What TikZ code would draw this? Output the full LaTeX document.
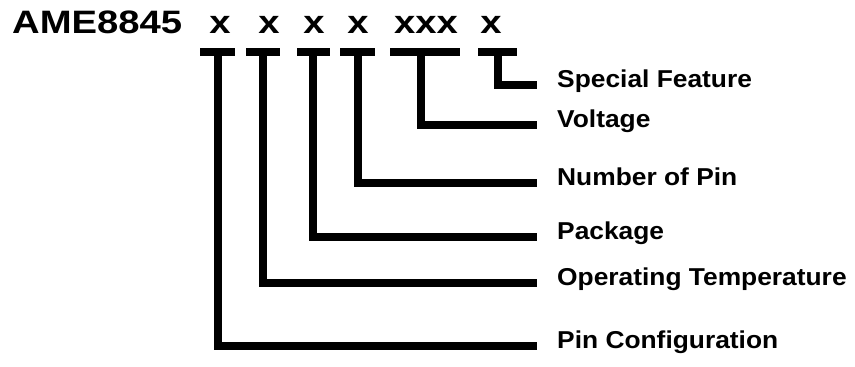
\documentclass[tikz,border=0pt]{standalone}
\usepackage{fontspec}
\newfontfamily\partfont[FakeStretch=1.18]{Liberation Sans}
\newfontfamily\fieldfont[FakeStretch=1.08]{Liberation Sans}
\tikzset{
  code/.style={font=\partfont\bfseries\fontsize{32.4}{36}\selectfont, inner sep=0pt, anchor=base},
  field/.style={font=\fieldfont\bfseries\fontsize{24.4}{28}\selectfont, inner sep=0pt, anchor=west, text height=0.75em, text depth=0.25em},
  bar/.style={line width=8pt},
}
\begin{document}
\begin{tikzpicture}[x=1pt,y=-1pt]
\useasboundingbox (0,0) rectangle (855,367);
\node[code, anchor=base west] (part) at (12,33) {AME8845};
\foreach \n/\cx/\code in {1/220/x, 2/269/x, 3/314/x, 4/358/x, 5/426/xxx, 6/491/x}
  \node[code] (c\n) at (\cx,33) {\code};
\foreach \n/\ly/\txt in {1/346/Pin Configuration, 2/283/Operating Temperature, 3/237/Package, 4/183/Number of Pin, 5/125/Voltage, 6/85/Special Feature}
  \node[field] (f\n) at (557,\ly) {\txt};

% bars under the code letters, then down and across to the field names
\foreach \n/\xl/\xr/\sx in {1/200/235/217.5, 2/246/280/262.5, 3/297/330/312.5, 4/340/375/357.5, 5/390/460/421, 6/478/517/497.5} {
  \draw[bar] (\xl,51.5) -- (\xr,51.5);
  \coordinate (t\n) at (\sx,51.5);
  \draw[bar] (t\n) |- ([xshift=-20pt]f\n.west);
}
\end{tikzpicture}
\end{document}
